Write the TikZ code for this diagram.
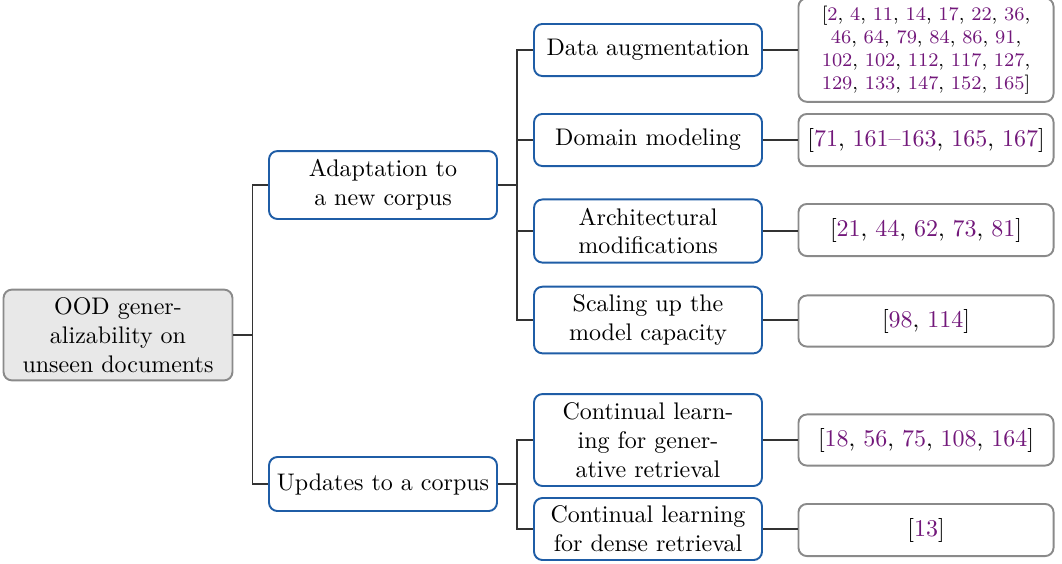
\documentclass[tikz,border=0pt]{standalone}
\usepackage{xcolor}
\definecolor{refcol}{cmyk}{0.55,1,0,0.15}
\definecolor{boxblue}{HTML}{1F5DA6}
\definecolor{boxgray}{HTML}{8A8A8A}
\newcommand{\rf}[1]{\textcolor{refcol}{#1}}

\begin{document}
\begin{tikzpicture}[x=0.4167pt,y=-0.4167pt,
    base/.style={rounded corners=3.5pt, line width=0.8pt, align=center, inner xsep=1pt},
    rootbox/.style={base, draw=boxgray, fill=gray!18, minimum width=95.4pt},
    topic/.style={base, draw=boxblue, fill=white, minimum width=95pt},
    refbox/.style={base, draw=boxgray, fill=white, minimum width=106.3pt},
    link/.style={draw=black!80, line width=0.45pt}]
    \useasboundingbox (0,0) rectangle (1062,563);

    \node[rootbox, minimum height=37.5pt] (root) at (118,335) {OOD gener-\\alizability on\\unseen documents};

    \node[topic, minimum height=28.3pt] (adapt) at (383,185) {Adaptation to\\a new corpus};
    \node[topic, minimum height=22.5pt] (upd) at (383,484) {Updates to a corpus};

    \node[topic, minimum height=21.7pt] (aug) at (648,50) {Data augmentation};
    \node[topic, minimum height=21.7pt] (dom) at (648,140) {Domain modeling};
    \node[topic, minimum height=26.3pt] (arch) at (648,231) {Architectural\\modifications};
    \node[topic, minimum height=27.5pt] (scale) at (648,320) {Scaling up the\\model capacity};
    \node[topic, minimum height=38.3pt] (clgen) at (648,440) {Continual learn-\\ing for gener-\\ative retrieval};
    \node[topic, minimum height=25.8pt] (cldense) at (648,529) {Continual learning\\for dense retrieval};

    \node[refbox, minimum height=40.4pt, font=\footnotesize] (r-aug) at (926,50)
        {[\rf{2}, \rf{4}, \rf{11}, \rf{14}, \rf{17}, \rf{22}, \rf{36},\\
          \rf{46}, \rf{64}, \rf{79}, \rf{84}, \rf{86}, \rf{91},\\
          \rf{102}, \rf{102}, \rf{112}, \rf{117}, \rf{127},\\
          \rf{129}, \rf{133}, \rf{147}, \rf{152}, \rf{165}]};
    \node[refbox, minimum height=21.7pt] (r-dom) at (926,140) {[\rf{71}, \rf{161--163}, \rf{165}, \rf{167}]};
    \node[refbox, minimum height=21.7pt] (r-arch) at (926,230) {[\rf{21}, \rf{44}, \rf{62}, \rf{73}, \rf{81}]};
    \node[refbox, minimum height=21.3pt] (r-scale) at (926,321) {[\rf{98}, \rf{114}]};
    \node[refbox, minimum height=21.3pt] (r-clgen) at (926,440) {[\rf{18}, \rf{56}, \rf{75}, \rf{108}, \rf{164}]};
    \node[refbox, minimum height=21.7pt] (r-cldense) at (926,530) {[\rf{13}]};

    % tree edges
    \foreach \c in {adapt,upd}
        \draw[link] (root.east) -- ++(19,0) |- (\c.west);
    \foreach \c in {aug,dom,arch,scale}
        \draw[link] (adapt.east) -- ++(19,0) |- (\c.west);
    \foreach \c in {clgen,cldense}
        \draw[link] (upd.east) -- ++(19,0) |- (\c.west);
    \foreach \c in {aug,dom,arch,scale,clgen,cldense}
        \draw[link] (\c.east) -- (\c.east -| r-\c.west);
\end{tikzpicture}
\end{document}
